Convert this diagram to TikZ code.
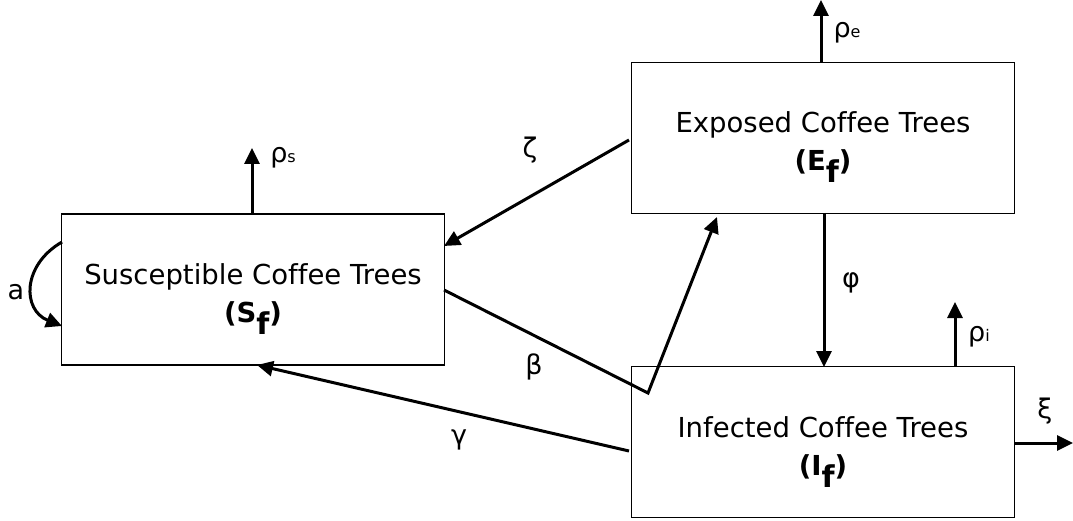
\documentclass[tikz,border=0pt]{standalone}
\usepackage{fontspec}
\setmainfont[Ligatures=NoCommon]{DejaVu Sans}
\usetikzlibrary{arrows.meta}
\newcommand{\subf}{\raisebox{-12pt}{\fontsize{30}{30}\selectfont\bfseries f}}
\newcommand{\topstrut}{\rule{0pt}{40pt}}
\begin{document}
\begin{tikzpicture}[x=1pt,y=-1pt,
  box/.style={draw,line width=1.6pt,minimum width=383pt,minimum height=151pt,inner sep=0pt,font=\fontsize{27.5}{33}\selectfont,align=center},
  flow/.style={line width=3pt,-{Triangle[length=16pt,width=15pt]}},
  lbl/.style={font=\fontsize{27}{30}\selectfont,inner sep=0pt}]
\useasboundingbox (0,0) rectangle (1073,521);
\node[box] (S) at (253,289.5) {\topstrut Susceptible Coffee Trees\\[5pt]\textbf{(S\subf)}};
\node[box] (E) at (823,138) {\topstrut Exposed Coffee Trees\\[5pt]\textbf{(E\subf)}};
\node[box] (I) at (823,442) {\topstrut Infected Coffee Trees\\[5pt]\textbf{(I\subf)}};
% outflows
\coordinate (ps) at (252,148);
\coordinate (pe) at (821,0);
\coordinate (pi) at (955,302);
\coordinate (xi) at (1073,443);
\draw[flow] (S.north -| ps) -- (ps);
\draw[flow] (E.north -| pe) -- (pe);
\draw[flow] (I.north -| pi) -- (pi);
\draw[flow] (I.east |- xi) -- (xi);
\node[lbl] (lps) at (283,158) {ρ{\fontsize{16}{16}\selectfont s}};
\node[lbl] (lpe) at (847,33) {ρ{\fontsize{16}{16}\selectfont e}};
\node[lbl] (lpi) at (979,337) {ρ{\fontsize{16}{16}\selectfont i}};
\node[lbl] (lxi) at (1045,411) {ξ};
% phi
\draw[flow] (824,213) -- (824,367);
\node[lbl] (lphi) at (851,283) {φ};
% zeta
\draw[flow] (629,140) -- (444,246);
\node[lbl] (lzeta) at (530,150) {ζ};
% beta
\coordinate (bk) at (648,393);
\draw[flow,line join=miter] (444,290) -- (bk) -- (717,217);
\node[lbl] (lbeta) at (534,367) {β};
% gamma
\draw[flow] (629,451) -- (257,365);
\node[lbl] (lgam) at (459,440) {γ};
% a loop
\draw[flow] (62,242) .. controls (22,265) and (22,310) .. (62,326);
\node[lbl] (la) at (16,292) {a};
\end{tikzpicture}
\end{document}
